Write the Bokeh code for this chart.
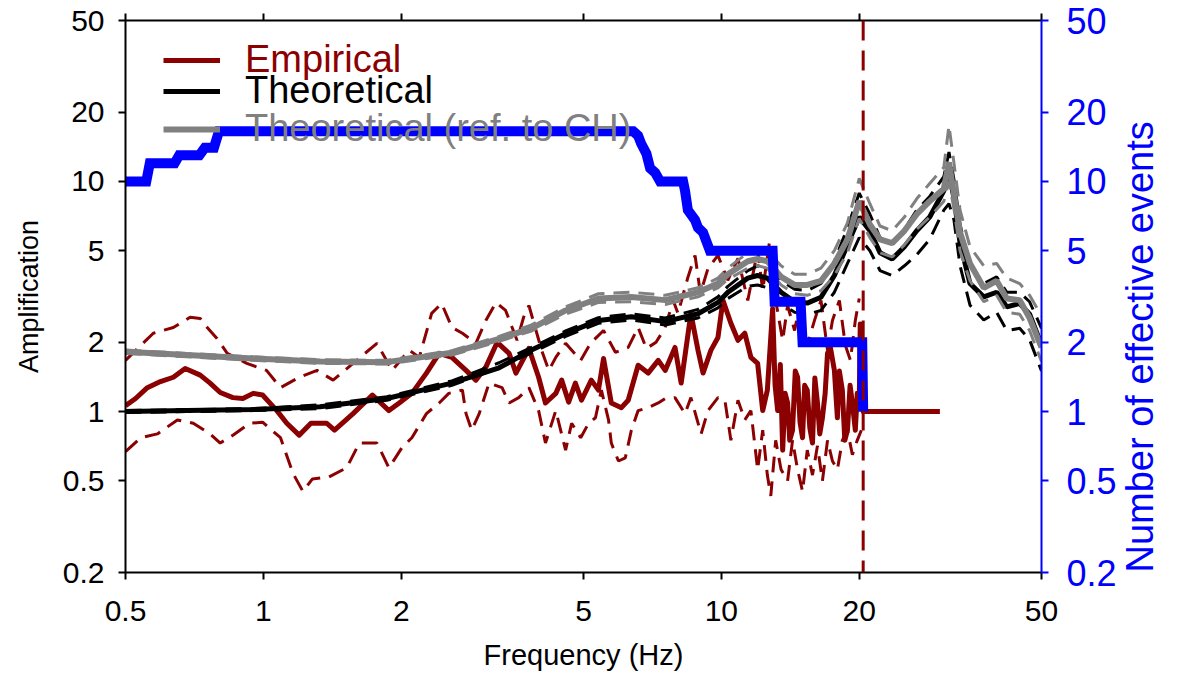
import math
from bokeh.plotting import figure
from bokeh.models import (LogAxis, Range1d, FixedTicker, CustomJSTickFormatter,
                          Legend, LegendItem, Span)
from bokeh.embed import file_html
from bokeh.resources import INLINE

# ---------------- data ----------------
# Theoretical amplification (common frequency grid)
th_freq = [0.5, 0.68, 0.95, 1.33, 1.86, 2.58, 3.27, 3.85, 4.57, 5.39, 6.36, 7.54, 8.89,
           9.83, 10.33, 11.42, 12.0, 12.6, 13.5, 14.45, 15.4, 16.5, 17.65, 18.85, 20.0,
           21.1, 22.2, 23.6, 25.1, 26.7, 28.5, 30.6, 31.4, 32.2, 33.2, 34.9, 37.4, 39.9,
           42.0, 44.8, 47.1, 50.0]
th_amp = [1.0, 1.01, 1.02, 1.05, 1.14, 1.33, 1.55, 1.85, 2.18, 2.49, 2.58, 2.46, 2.66,
          2.98, 3.3, 3.8, 3.9, 3.8, 3.3, 3.0, 2.96, 3.14, 3.9, 5.3, 7.0,
          6.1, 4.9, 4.6, 5.2, 6.1, 7.0, 9.1, 10.8, 8.5, 5.4, 3.6, 3.15, 3.3,
          2.85, 2.95, 2.65, 1.95]
th_up = [1.01, 1.02, 1.03, 1.07, 1.16, 1.36, 1.63, 1.9, 2.24, 2.56, 2.66, 2.55, 2.78,
         3.15, 3.5, 4.1, 4.3, 4.2, 3.7, 3.4, 3.35, 3.6, 4.5, 6.3, 8.9,
         7.2, 5.7, 5.3, 6.2, 7.5, 8.6, 10.5, 13.4, 10.2, 6.5, 4.3, 3.6, 3.85,
         3.3, 3.3, 3.0, 2.3]
th_lo = [0.99, 1.0, 1.01, 1.03, 1.12, 1.3, 1.55, 1.8, 2.12, 2.42, 2.5, 2.38, 2.55,
         2.82, 3.1, 3.5, 3.55, 3.45, 2.95, 2.7, 2.65, 2.75, 3.3, 4.4, 5.7,
         5.0, 4.1, 3.9, 4.3, 4.8, 5.6, 7.5, 8.0, 6.8, 4.3, 2.9, 2.5, 2.7,
         2.25, 2.3, 2.05, 1.5]
ch_amp = [1.82, 1.76, 1.70, 1.65, 1.64, 1.80, 2.07, 2.3, 2.75, 3.1, 3.15, 3.05, 3.3,
          3.6, 3.95, 4.5, 4.6, 4.5, 3.85, 3.55, 3.55, 3.7, 4.4, 5.6, 8.2,
          6.5, 5.6, 5.4, 6.1, 7.2, 8.2, 9.3, 12.1, 8.8, 6.0, 4.4, 3.45, 3.7,
          3.1, 3.05, 2.55, 1.9]
ch_up = [1.85, 1.79, 1.73, 1.68, 1.67, 1.84, 2.12, 2.38, 2.85, 3.25, 3.3, 3.2, 3.45,
         3.8, 4.2, 4.9, 5.1, 5.0, 4.3, 3.95, 3.95, 4.2, 5.0, 6.6, 10.3,
         8.0, 6.4, 6.1, 7.0, 8.4, 9.8, 11.5, 17.5, 12.0, 7.5, 5.2, 4.3, 4.4,
         3.8, 3.6, 3.2, 2.6]
ch_lo = [1.79, 1.73, 1.67, 1.62, 1.61, 1.76, 2.02, 2.24, 2.65, 2.98, 3.0, 2.92, 3.15,
         3.45, 3.75, 4.2, 4.3, 4.2, 3.55, 3.25, 3.2, 3.35, 3.9, 4.9, 6.9,
         5.7, 4.9, 4.7, 5.3, 6.2, 7.0, 8.2, 10.0, 7.6, 5.0, 3.7, 3.0, 3.2,
         2.7, 2.65, 2.25, 1.65]

# Empirical amplification (mean)
emp_freq = [0.5, 0.526, 0.558, 0.596, 0.636, 0.675, 0.728, 0.765, 0.805, 0.858, 0.902,
            0.95, 0.996, 1.07, 1.125, 1.197, 1.27, 1.375, 1.43, 1.57, 1.73, 1.88, 1.98,
            2.11, 2.27, 2.42, 2.58, 2.77, 2.91, 3.06, 3.24, 3.44, 3.56, 3.8, 3.99, 4.13,
            4.35, 4.48, 4.64, 4.8, 4.95, 5.2, 5.39, 5.53, 5.75, 6.05, 6.26, 6.58, 6.92,
            7.28, 7.54, 7.92, 8.17, 8.58, 8.89, 9.12, 9.49, 9.83, 10.08, 10.49, 10.87,
            11.25, 11.6, 12.0, 12.31, 12.6, 12.94, 13.1, 13.27, 13.45, 13.61, 13.78, 13.95,
            14.1, 14.3, 14.5, 14.67, 14.85, 15.04, 15.2, 15.4, 15.6, 15.81, 16.0, 16.21,
            16.4, 16.62, 16.85, 17.05, 17.3, 17.65, 17.92, 18.1, 18.37, 18.6, 18.85,
            19.1, 19.32, 19.61, 19.8, 20.0, 20.1, 20.4, 30.0]
emp_amp = [1.06, 1.14, 1.27, 1.35, 1.41, 1.54, 1.44, 1.33, 1.21, 1.15, 1.14,
           1.20, 1.18, 1.01, 0.89, 0.79, 0.89, 0.89, 0.83, 0.98, 1.18, 1.01, 1.09,
           1.20, 1.47, 1.79, 1.72, 1.51, 1.37, 1.56, 2.0, 1.79, 1.47, 1.88, 1.41, 1.09,
           1.20, 1.37, 1.10, 1.33, 1.12, 1.37, 1.24, 1.70, 1.09, 1.04, 1.12, 1.59, 1.47,
           1.67, 1.51, 1.90, 1.33, 2.67, 1.85, 1.47, 1.85, 2.10, 3.04, 2.42, 2.04,
           2.19, 1.72, 1.62, 1.01, 1.24, 2.8, 1.3, 1.01, 1.6, 0.68, 1.2, 1.09,
           0.75, 0.83, 1.5, 1.41, 0.9, 0.77, 1.3, 1.24, 0.85, 0.73, 1.4, 1.09,
           0.8, 0.94, 1.2, 1.79, 1.90, 1.51, 0.94, 1.5, 1.24, 0.75, 0.83,
           1.3, 1.09, 0.83, 1.2, 1.09, 2.4, 1.0, 1.0]

emp_up_freq = [0.5, 0.54, 0.575, 0.636, 0.692, 0.728, 0.754, 0.792, 0.834, 0.92, 1.016,
               1.09, 1.197, 1.31, 1.42, 1.57, 1.77, 1.91, 2.08, 2.19, 2.33, 2.45, 2.58,
               2.72, 2.91, 3.06, 3.22, 3.38, 3.58, 3.7, 3.8, 4.05, 4.2, 4.35, 4.57, 4.93,
               5.18, 5.53, 5.87, 6.26, 6.58, 6.86, 7.2, 7.54, 7.85, 8.04, 8.45, 8.76, 9.0,
               9.35, 9.83, 10.33, 10.87, 11.42, 12.0, 12.31, 12.75, 13.14, 13.61, 13.95,
               14.45, 14.89, 15.4, 15.97, 16.5, 17.05, 17.48, 18.1, 18.65, 19.13, 19.61, 20.0]
emp_up = [1.67, 1.94, 2.19, 2.32, 2.57, 2.54, 2.32, 2.08, 1.79, 1.62, 1.51,
          1.27, 1.41, 1.51, 1.37, 1.62, 1.98, 1.51, 1.85, 1.72, 2.67, 2.95, 2.32,
          2.19, 1.98, 2.49, 2.98, 2.75, 2.04, 2.57, 2.89, 1.85, 1.51, 1.72, 1.98, 1.67,
          1.98, 2.25, 1.81, 1.90, 2.32, 1.88, 2.0, 2.32, 3.04, 2.67, 3.83, 4.77, 3.26,
          4.19, 4.77, 3.72, 4.63, 3.04, 5.01, 3.36, 5.54, 3.04, 2.04, 2.89,
          2.25, 3.04, 1.94, 2.49, 3.04, 1.85, 2.49, 3.04, 1.94, 1.67, 2.49, 3.10]

emp_lo_freq = [0.5, 0.54, 0.587, 0.649, 0.703, 0.765, 0.805, 0.858, 0.934, 0.996, 1.09,
               1.16, 1.22, 1.28, 1.39, 1.52, 1.62, 1.77, 1.88, 2.01, 2.11, 2.27, 2.42,
               2.54, 2.72, 2.77, 2.85, 2.96, 3.11, 3.32, 3.44, 3.61, 3.8, 3.99, 4.13, 4.35,
               4.57, 4.71, 4.93, 5.13, 5.31, 5.47, 5.67, 5.75, 5.96, 6.17, 6.36, 6.58, 6.92,
               7.28, 7.54, 7.92, 8.33, 8.58, 9.03, 9.35, 9.83, 10.18, 10.49, 10.87, 11.25,
               11.6, 12.0, 12.31, 12.6, 12.82, 13.14, 13.5, 13.95, 14.3, 14.67, 15.04,
               15.4, 15.81, 16.21, 16.62, 17.05, 17.48, 17.92, 18.37, 18.85, 19.32, 19.8, 20.21]
emp_lo = [0.67, 0.77, 0.80, 0.92, 0.89, 0.80, 0.73, 0.79, 0.89, 0.90, 0.77,
          0.54, 0.45, 0.51, 0.52, 0.57, 0.73, 0.73, 0.57, 0.70, 0.77, 0.98, 1.09,
          1.20, 1.24, 0.98, 0.83, 0.98, 1.33, 1.27, 1.09, 1.15, 1.27, 1.01, 0.73, 1.01,
          0.68, 0.89, 0.77, 0.89, 0.94, 1.24, 0.92, 0.73, 0.61, 0.63, 0.83, 1.01, 1.04,
          1.09, 1.14, 1.15, 0.98, 1.15, 0.80, 1.01, 1.15, 1.12, 0.75, 1.12, 0.92,
          1.01, 0.56, 0.83, 0.53, 0.43, 0.75, 0.56, 0.50, 0.75, 0.56, 0.45,
          0.68, 0.53, 0.71, 0.50, 0.75, 0.61, 0.56, 0.75, 0.83, 0.65, 0.75, 0.83]

# Number of effective events
ev_freq = [0.5, 0.555, 0.565, 0.64, 0.655, 0.725, 0.745, 0.78, 0.80, 6.42, 6.58, 6.68,
           6.86, 6.99, 7.17, 7.35, 8.25, 8.33, 8.45, 8.76, 8.89, 9.12, 9.44, 12.94,
           13.07, 14.89, 15.04, 20.3, 20.4]
ev_count = [10, 10, 12, 12, 13, 13, 14, 14, 16.5, 16.5, 15.8, 14.6,
            13.2, 11.4, 10.9, 10, 10, 9.1, 7.5, 6.8, 6.3, 6.0, 5, 5,
            3, 3, 2, 2, 1]

f_cut = 20.4          # frequency of the vertical dashed line
x_ticks = [0.5, 1, 2, 5, 10, 20, 50]
y_ticks = [0.2, 0.5, 1, 2, 5, 10, 20, 50]

# ---------------- styles ----------------
DARKRED = "#8b0000"
GRAY = "#808080"
BLUE = "#0000ff"
FONT = "Liberation Sans"

p = figure(width=1184, height=673, x_axis_type="log", y_axis_type="log",
           x_range=Range1d(0.5, 50), y_range=Range1d(0.2, 50),
           output_backend="svg", toolbar_location=None,
           min_border_left=125, min_border_right=139, min_border_top=20,
           min_border_bottom=101, x_axis_location=None, y_axis_location=None)
p.extra_y_ranges = {"events": Range1d(0.2, 50)}
p.grid.visible = False
p.outline_line_color = None
p.background_fill_color = "white"
p.border_fill_color = "white"

fmt = CustomJSTickFormatter(code="return String(tick);")

def style_axis(ax, color, label_size, with_labels=True):
    ax.axis_line_color = color
    ax.axis_line_width = 2
    ax.major_tick_line_color = color
    ax.major_tick_line_width = 2
    ax.major_tick_out = 7
    ax.major_tick_in = 0
    ax.minor_tick_line_color = None
    ax.major_label_text_font = FONT
    ax.major_label_text_font_size = label_size
    ax.major_label_text_color = color
    ax.axis_label_text_font = FONT
    ax.axis_label_text_font_style = "normal"
    ax.formatter = fmt
    if not with_labels:
        ax.major_label_text_font_size = "0px"
        ax.major_label_text_alpha = 0

xb = LogAxis(ticker=FixedTicker(ticks=x_ticks, minor_ticks=[]), axis_label="Frequency (Hz)")
style_axis(xb, "black", "30px")
xb.axis_label_text_font_size = "29px"
xb.axis_label_text_color = "black"
xb.major_label_standoff = 21
xb.axis_label_standoff = 15
p.add_layout(xb, "below")

xt = LogAxis(ticker=FixedTicker(ticks=x_ticks, minor_ticks=[]))
style_axis(xt, "black", "30px", with_labels=False)
p.add_layout(xt, "above")

yl = LogAxis(ticker=FixedTicker(ticks=y_ticks, minor_ticks=[]), axis_label="Amplification")
style_axis(yl, "black", "30px")
yl.axis_label_text_font_size = "27px"
yl.axis_label_text_color = "black"
yl.major_label_standoff = 14
yl.axis_label_standoff = 16
p.add_layout(yl, "left")

yr = LogAxis(y_range_name="events", ticker=FixedTicker(ticks=y_ticks, minor_ticks=[]))
style_axis(yr, BLUE, "36px")
yr.major_label_standoff = 18
p.add_layout(yr, "right")

# title-only axis for the right side, text reading bottom-to-top
yr_title = LogAxis(y_range_name="events", ticker=FixedTicker(ticks=[], minor_ticks=[]),
                   axis_label="Number of effective events")
yr_title.axis_line_color = None
yr_title.major_tick_line_color = None
yr_title.minor_tick_line_color = None
yr_title.major_tick_out = 0
yr_title.major_tick_in = 0
yr_title.major_label_standoff = 0
yr_title.major_label_text_font_size = "0px"
yr_title.axis_label_text_font = FONT
yr_title.axis_label_text_font_style = "normal"
yr_title.axis_label_text_font_size = "38px"
yr_title.axis_label_text_color = BLUE
yr_title.axis_label_standoff = 20
if "axis_label_orientation" in yr_title.properties():
    yr_title.axis_label_orientation = math.pi / 2
if "axis_label_align" in yr_title.properties():
    yr_title.axis_label_align = "start"
p.add_layout(yr_title, "right")

# ---------------- glyphs ----------------
p.line(emp_up_freq, emp_up, line_color=DARKRED, line_width=3, line_dash="16 9")
p.line(emp_lo_freq, emp_lo, line_color=DARKRED, line_width=3, line_dash="16 9")
r_emp = p.line(emp_freq, emp_amp, line_color=DARKRED, line_width=5, line_join="round")

p.line(th_freq, th_up, line_color="black", line_width=3, line_dash="16 9")
p.line(th_freq, th_lo, line_color="black", line_width=3, line_dash="16 9")
r_th = p.line(th_freq, th_amp, line_color="black", line_width=5)

p.line(th_freq, ch_up, line_color=GRAY, line_width=3, line_dash="16 9")
p.line(th_freq, ch_lo, line_color=GRAY, line_width=3, line_dash="16 9")
r_ch = p.line(th_freq, ch_amp, line_color=GRAY, line_width=6)

p.line(ev_freq, ev_count, line_color=BLUE, line_width=10, line_join="miter",
       y_range_name="events")

p.add_layout(Span(location=f_cut, dimension="height", line_color=DARKRED,
                  line_width=3, line_dash="20 10"))

# ---------------- legend ----------------
def add_legend(renderer, text, color, loc):
    lg = Legend(items=[LegendItem(label=text, renderers=[renderer])],
                location=loc, orientation="vertical")
    lg.background_fill_alpha = 0
    lg.border_line_alpha = 0
    lg.padding = 0
    lg.margin = 0
    lg.glyph_width = 57
    lg.glyph_height = 30
    lg.label_standoff = 25
    lg.label_text_font = FONT
    lg.label_text_font_size = "38px"
    lg.label_text_color = color
    lg.label_height = 30
    p.add_layout(lg, "center")

add_legend(r_emp, "Empirical", DARKRED, (38, 491))
add_legend(r_th, "Theoretical", "black", (38, 460))
add_legend(r_ch, "Theoretical (ref. to CH)", GRAY, (38, 422))

open("out.html", "w").write(file_html(p, INLINE))
